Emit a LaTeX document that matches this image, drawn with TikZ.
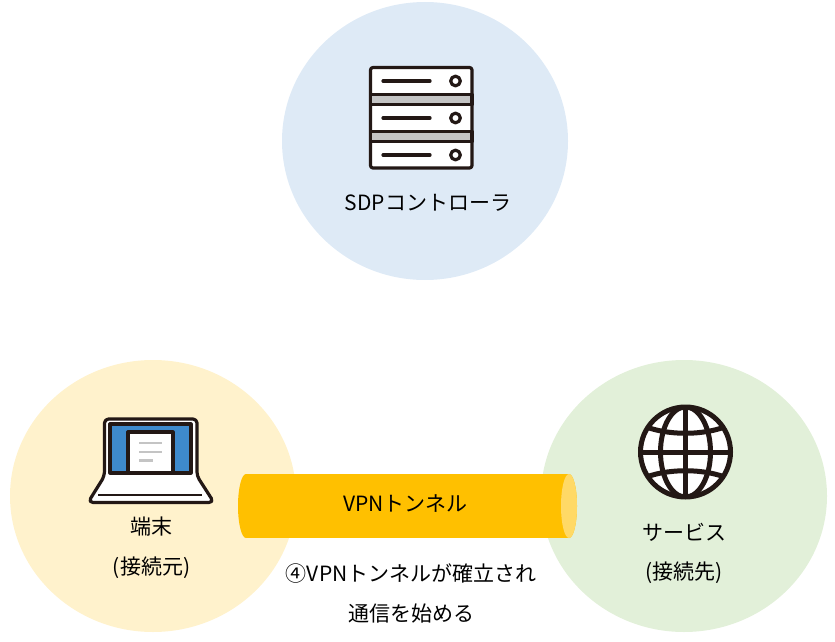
\documentclass[tikz,border=0pt]{standalone}
\usepackage{fontspec}
\setmainfont{Noto Sans CJK JP}
\definecolor{cblue}{HTML}{DEEAF6}
\definecolor{cyel}{HTML}{FFF2CC}
\definecolor{cgreen}{HTML}{E2F0D9}
\definecolor{tube}{HTML}{FFC000}
\definecolor{tubeend}{HTML}{FFD966}
\definecolor{ink}{HTML}{231815}
\definecolor{lapblue}{HTML}{3E8ACC}
\definecolor{band}{HTML}{C4C4C4}
\tikzset{
  lbl/.style={font=\fontsize{21}{21}\selectfont,text=black,inner sep=0pt},
  ic/.style={draw=ink,line width=3.2pt,line join=round},
  icl/.style={draw=ink,line width=3.2pt,line cap=round},
  doc/.style={draw=band,line width=2.4pt},
  globeline/.style={draw=ink,line width=5pt},
}
\begin{document}
\begin{tikzpicture}[x=1pt,y=-1pt]
\useasboundingbox (0,0) rectangle (835,642);
\fill[cblue] (425,141) ellipse [x radius=143,y radius=139];
\fill[cyel] (153,496) ellipse [x radius=143,y radius=136];
\fill[cgreen] (684,496) ellipse [x radius=143,y radius=136];
% tube
\fill[tube] (246,506) ellipse [x radius=8,y radius=32];
\fill[tube] (246,474) rectangle (569,538);
\fill[tube] (569,506) ellipse [x radius=8,y radius=32];
\fill[tubeend] (569,506) ellipse [x radius=8,y radius=32];
% server
\draw[ic,fill=white,rounded corners=2.5pt] (370.5,67.5) rectangle (472,168);
\draw[ic,fill=band] (370.5,94.5) rectangle (472,104.5);
\draw[ic,fill=band] (370.5,131.5) rectangle (472,141.5);
\foreach \y in {81,118,155}{
  \draw[icl] (383,\y) -- (430,\y);
  \draw[ic] (455.5,\y) circle (4.8);
}
% laptop
\draw[ic,fill=white,rounded corners=4pt] (104.5,476) -- (104.5,419) -- (197,419) -- (197,476) [rounded corners=5pt] -- (214,502.5) -- (88,502.5) -- cycle;
\fill[lapblue] (110,424) rectangle (191,473);
\draw[ic] (110,424) rectangle (191,473);
\draw[ic,fill=white] (128,432) rectangle (173,473);
\draw[doc] (139,443) -- (162,443) (139,452) -- (162,452) (139,460.5) -- (153,460.5);
\draw[draw=ink,line width=2.2pt] (98,495) -- (202,495);
% globe
\begin{scope}[shift={(685.5,452)}]
\draw[globeline,fill=white] (0,0) circle (45);
\clip (0,0) circle (46);
\draw[globeline] (0,-46) -- (0,46) (-46,0) -- (46,0);
\draw[globeline] (0,0) ellipse [x radius=25,y radius=45];
\draw[globeline] (-44,-27) .. controls (-20,-16) and (20,-16) .. (44,-27);
\draw[globeline] (-44,27) .. controls (-20,16) and (20,16) .. (44,27);
\end{scope}
% labels
\node[lbl] (ctrl) at (428,203) {SDPコントローラ};
\node[lbl] (pc1) at (151,527) {端末};
\node[lbl] (pc2) at (151.5,567.5) {(接続元)};
\node[lbl] (sv1) at (684,532) {サービス};
\node[lbl] (sv2) at (684,572.5) {(接続先)};
\node[lbl] (vpn) at (405.5,504) {VPNトンネル};
\node[lbl] (st1) at (411,574) {④VPNトンネルが確立され};
\node[lbl] (st2) at (411,614) {通信を始める};
\end{tikzpicture}
\end{document}
